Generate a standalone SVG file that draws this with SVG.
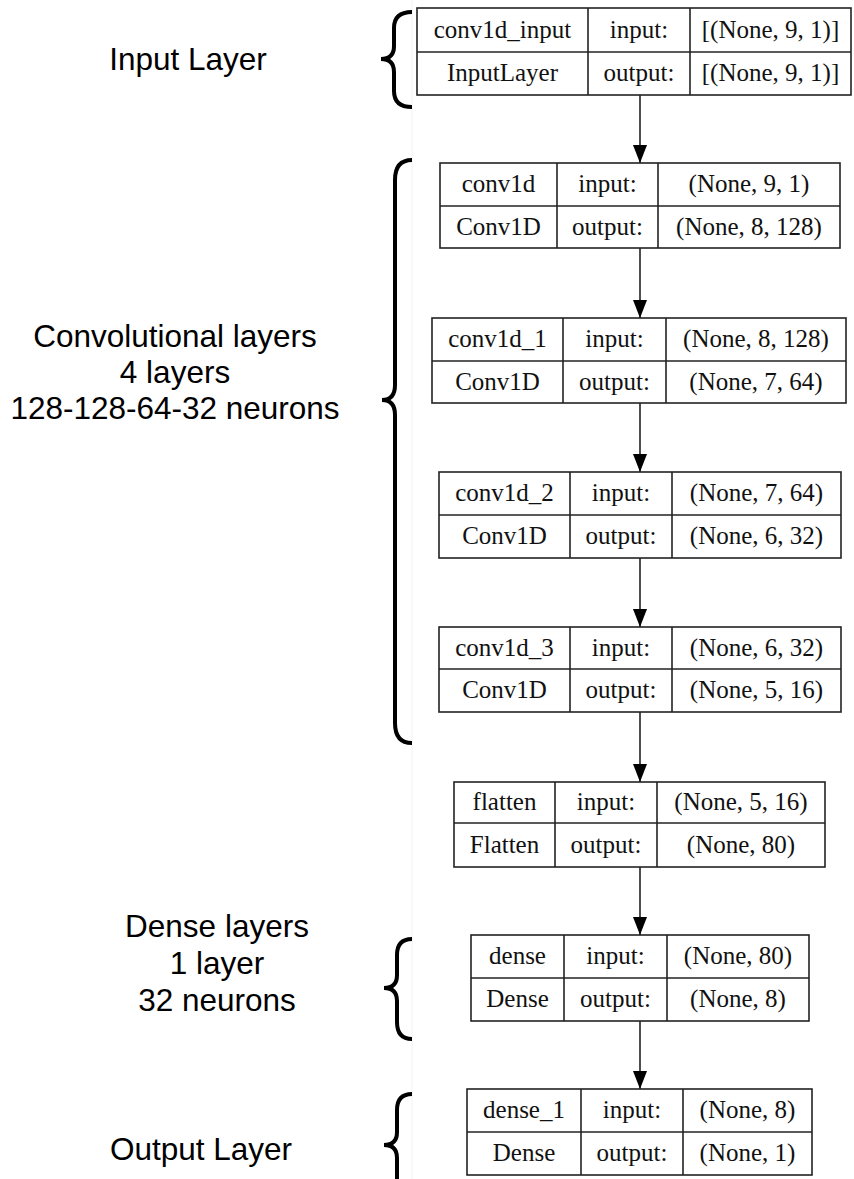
<svg xmlns="http://www.w3.org/2000/svg" width="854" height="1179" viewBox="0 0 854 1179">
<style>
.box{fill:#fff;stroke:#222;stroke-width:1.6}
.div{stroke:#222;stroke-width:1.6}
.t{font-family:"Liberation Serif","Times New Roman",serif;font-size:25px;fill:#111;text-anchor:middle}
.lbl{font-family:"Liberation Sans",Arial,sans-serif;font-size:31.5px;fill:#000;text-anchor:middle}
.brace{fill:none;stroke:#000;stroke-width:4;stroke-linecap:butt}
.edge{stroke:#222;stroke-width:1.6;fill:none}
</style>
<defs>
<marker id="ah" viewBox="0 0 18 14" refX="18" refY="7" markerWidth="18" markerHeight="14" markerUnits="userSpaceOnUse" orient="auto">
<path d="M0,0 L18,7 L0,14 z" fill="#000"/>
</marker>
</defs>
<rect width="854" height="1179" fill="#fff"/>
<line x1="412" y1="0" x2="412" y2="1179" stroke="#f2f2f2" stroke-width="1"/>

<g id="labels">
<text class="lbl" x="188" y="70">Input Layer</text>
<text class="lbl" x="175" y="347">Convolutional layers</text>
<text class="lbl" x="175" y="383">4 layers</text>
<text class="lbl" x="175" y="419">128-128-64-32 neurons</text>
<text class="lbl" x="217" y="937">Dense layers</text>
<text class="lbl" x="217" y="974">1 layer</text>
<text class="lbl" x="217" y="1011">32 neurons</text>
<text class="lbl" x="201" y="1160">Output Layer</text>
</g>

<g id="braces">
<path class="brace" d="M412,12 Q394,12 394,28 L394,46 Q394,59 381,59 Q394,59 394,72 L394,91 Q394,107 412,107"/>
<path class="brace" d="M412,160 Q395,160 395,180 L395,385 Q395,400 382,400 Q395,400 395,415 L395,723 Q395,743 412,743"/>
<path class="brace" d="M412,939 Q397,939 397,955 L397,975 Q397,988 384,988 Q397,988 397,1001 L397,1022 Q397,1039 412,1039"/>
<path class="brace" d="M412,1094 Q397,1094 397,1110 L397,1132 Q397,1145 384,1145 Q397,1145 397,1158 L397,1190"/>
</g>

<g id="connectors">
<line class="edge" x1="640" y1="95" x2="640" y2="163" marker-end="url(#ah)"/>
<line class="edge" x1="640" y1="248" x2="640" y2="318" marker-end="url(#ah)"/>
<line class="edge" x1="640" y1="403" x2="640" y2="472" marker-end="url(#ah)"/>
<line class="edge" x1="640" y1="558" x2="640" y2="627" marker-end="url(#ah)"/>
<line class="edge" x1="640" y1="712" x2="640" y2="782" marker-end="url(#ah)"/>
<line class="edge" x1="640" y1="867" x2="640" y2="935" marker-end="url(#ah)"/>
<line class="edge" x1="640" y1="1021" x2="640" y2="1089" marker-end="url(#ah)"/>
</g>

<g id="conv1d_input">
<rect class="box" x="417" y="8" width="434" height="87"/>
<line class="div" x1="417" y1="52" x2="851" y2="52"/>
<line class="div" x1="588" y1="8" x2="588" y2="95"/>
<line class="div" x1="690" y1="8" x2="690" y2="95"/>
<text class="t" x="502.5" y="37.5">conv1d_input</text>
<text class="t" x="639" y="37.5">input:</text>
<text class="t" x="770.5" y="37.5">[(None, 9, 1)]</text>
<text class="t" x="502.5" y="81">InputLayer</text>
<text class="t" x="639" y="81">output:</text>
<text class="t" x="770.5" y="81">[(None, 9, 1)]</text>
</g>

<g id="conv1d">
<rect class="box" x="440" y="163" width="400" height="85"/>
<line class="div" x1="440" y1="206" x2="840" y2="206"/>
<line class="div" x1="557" y1="163" x2="557" y2="248"/>
<line class="div" x1="658" y1="163" x2="658" y2="248"/>
<text class="t" x="498.5" y="192">conv1d</text>
<text class="t" x="607.5" y="192">input:</text>
<text class="t" x="749" y="192">(None, 9, 1)</text>
<text class="t" x="498.5" y="234.5">Conv1D</text>
<text class="t" x="607.5" y="234.5">output:</text>
<text class="t" x="749" y="234.5">(None, 8, 128)</text>
</g>

<g id="conv1d_1">
<rect class="box" x="432" y="318" width="414" height="85"/>
<line class="div" x1="432" y1="361" x2="846" y2="361"/>
<line class="div" x1="563" y1="318" x2="563" y2="403"/>
<line class="div" x1="666" y1="318" x2="666" y2="403"/>
<text class="t" x="497.5" y="347">conv1d_1</text>
<text class="t" x="614.5" y="347">input:</text>
<text class="t" x="756" y="347">(None, 8, 128)</text>
<text class="t" x="497.5" y="389.5">Conv1D</text>
<text class="t" x="614.5" y="389.5">output:</text>
<text class="t" x="756" y="389.5">(None, 7, 64)</text>
</g>

<g id="conv1d_2">
<rect class="box" x="439" y="472" width="402" height="86"/>
<line class="div" x1="439" y1="515" x2="841" y2="515"/>
<line class="div" x1="570" y1="472" x2="570" y2="558"/>
<line class="div" x1="672" y1="472" x2="672" y2="558"/>
<text class="t" x="504.5" y="501">conv1d_2</text>
<text class="t" x="621" y="501">input:</text>
<text class="t" x="756.5" y="501">(None, 7, 64)</text>
<text class="t" x="504.5" y="544">Conv1D</text>
<text class="t" x="621" y="544">output:</text>
<text class="t" x="756.5" y="544">(None, 6, 32)</text>
</g>

<g id="conv1d_3">
<rect class="box" x="439" y="627" width="402" height="85"/>
<line class="div" x1="439" y1="669" x2="841" y2="669"/>
<line class="div" x1="570" y1="627" x2="570" y2="712"/>
<line class="div" x1="672" y1="627" x2="672" y2="712"/>
<text class="t" x="504.5" y="655.5">conv1d_3</text>
<text class="t" x="621" y="655.5">input:</text>
<text class="t" x="756.5" y="655.5">(None, 6, 32)</text>
<text class="t" x="504.5" y="698">Conv1D</text>
<text class="t" x="621" y="698">output:</text>
<text class="t" x="756.5" y="698">(None, 5, 16)</text>
</g>

<g id="flatten">
<rect class="box" x="454" y="782" width="371" height="85"/>
<line class="div" x1="454" y1="823" x2="825" y2="823"/>
<line class="div" x1="555" y1="782" x2="555" y2="867"/>
<line class="div" x1="657" y1="782" x2="657" y2="867"/>
<text class="t" x="504.5" y="810">flatten</text>
<text class="t" x="606" y="810">input:</text>
<text class="t" x="741" y="810">(None, 5, 16)</text>
<text class="t" x="504.5" y="852.5">Flatten</text>
<text class="t" x="606" y="852.5">output:</text>
<text class="t" x="741" y="852.5">(None, 80)</text>
</g>

<g id="dense">
<rect class="box" x="471" y="935" width="338" height="86"/>
<line class="div" x1="471" y1="978" x2="809" y2="978"/>
<line class="div" x1="564" y1="935" x2="564" y2="1021"/>
<line class="div" x1="667" y1="935" x2="667" y2="1021"/>
<text class="t" x="517.5" y="964">dense</text>
<text class="t" x="615.5" y="964">input:</text>
<text class="t" x="738" y="964">(None, 80)</text>
<text class="t" x="517.5" y="1007">Dense</text>
<text class="t" x="615.5" y="1007">output:</text>
<text class="t" x="738" y="1007">(None, 8)</text>
</g>

<g id="dense_1">
<rect class="box" x="467" y="1089" width="345" height="86"/>
<line class="div" x1="467" y1="1132" x2="812" y2="1132"/>
<line class="div" x1="581" y1="1089" x2="581" y2="1175"/>
<line class="div" x1="683" y1="1089" x2="683" y2="1175"/>
<text class="t" x="524" y="1118">dense_1</text>
<text class="t" x="632" y="1118">input:</text>
<text class="t" x="747.5" y="1118">(None, 8)</text>
<text class="t" x="524" y="1161">Dense</text>
<text class="t" x="632" y="1161">output:</text>
<text class="t" x="747.5" y="1161">(None, 1)</text>
</g>
</svg>
